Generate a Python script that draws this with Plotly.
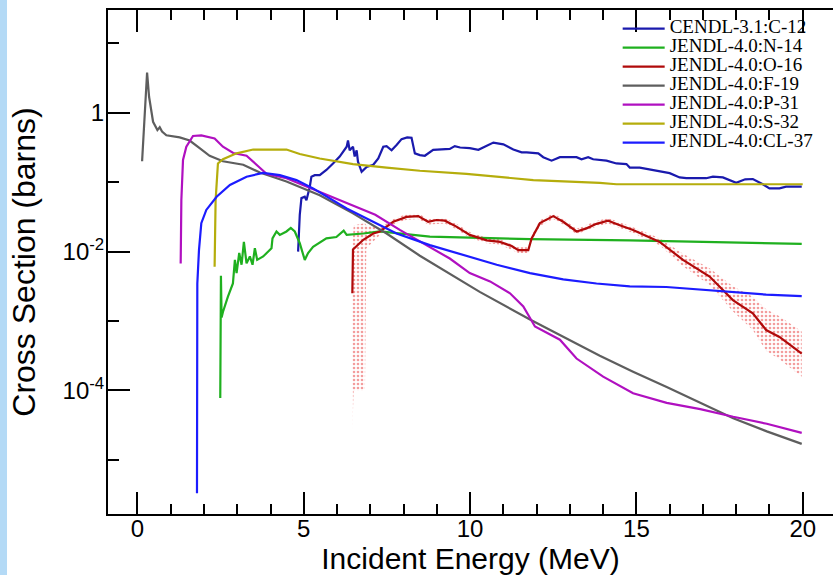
import plotly.graph_objects as go

# ---------------- data (Incident energy in MeV, cross section in barns) ----------------
c12_E = [4.83, 4.88, 4.93, 5.03, 5.08, 5.18, 5.23, 5.33, 5.48, 5.68, 5.88, 6.08, 6.29, 6.33, 6.38,
         6.48, 6.53, 6.59, 6.63, 6.74, 6.89, 7.09, 7.24, 7.39, 7.49, 7.64, 7.79, 7.94, 8.11, 8.24,
         8.34, 8.49, 8.64, 8.89, 9.39, 9.54, 9.70, 9.99, 10.25, 10.50, 10.70, 11.0, 11.3, 11.55,
         11.7, 12.05, 12.2, 12.45, 12.7, 13.2, 13.35, 13.55, 13.7, 14.1, 14.4, 14.7, 14.8, 15.1,
         15.5, 16.0, 16.3, 16.5, 17.1, 17.3, 17.6, 18.0, 18.27, 18.5, 18.8, 19.0, 19.3, 19.5, 19.97]
c12_xs = [0.0100, 0.0339, 0.0589, 0.0617, 0.0550, 0.0851, 0.120, 0.126, 0.126, 0.150, 0.186, 0.234,
          0.324, 0.398, 0.288, 0.324, 0.234, 0.288, 0.197, 0.141, 0.166, 0.178, 0.219, 0.324, 0.331,
          0.288, 0.343, 0.417, 0.442, 0.437, 0.260, 0.245, 0.240, 0.292, 0.302, 0.331, 0.316, 0.309,
          0.292, 0.331, 0.372, 0.351, 0.295, 0.269, 0.269, 0.260, 0.229, 0.204, 0.229, 0.229, 0.214,
          0.229, 0.214, 0.204, 0.186, 0.182, 0.162, 0.162, 0.150, 0.135, 0.117, 0.114, 0.114, 0.120,
          0.117, 0.0977, 0.110, 0.111, 0.0933, 0.0813, 0.0813, 0.0861, 0.0861]

n14_E = [2.49, 2.51, 2.53, 2.57, 2.72, 2.87, 2.93, 2.98, 3.06, 3.13, 3.20, 3.28, 3.38, 3.46, 3.53,
         3.60, 3.78, 4.03, 4.06, 4.18, 4.28, 4.48, 4.61, 4.73, 4.88, 5.03, 5.13, 5.28, 5.68, 5.98,
         6.20, 6.29, 6.79, 7.29, 8.79, 11.8, 14.8, 19.97]
n14_xs = [7.76e-5, 4.47e-3, 1.12e-3, 1.35e-3, 2.24e-3, 3.47e-3, 7.59e-3, 4.90e-3, 9.55e-3, 6.46e-3,
          0.0138, 6.76e-3, 8.51e-3, 6.46e-3, 0.0112, 7.59e-3, 8.51e-3, 0.0112, 0.0155, 0.0195,
          0.0174, 0.0195, 0.0219, 0.0195, 0.0132, 7.59e-3, 9.55e-3, 0.0117, 0.0155, 0.0162,
          0.0200, 0.0174, 0.0182, 0.0195, 0.0164, 0.0151, 0.0145, 0.0129]

o16_E = [6.46, 6.48, 6.79, 7.09, 7.29, 7.69, 8.09, 8.44, 8.74, 8.99, 9.24, 9.59, 9.99, 10.5, 10.9,
         11.25, 11.45, 11.75, 11.85, 12.1, 12.5, 12.8, 13.2, 13.5, 13.8, 14.15, 14.5, 14.9, 15.7,
         16.4, 17.2, 17.9, 18.5, 18.9, 19.3, 19.97]
o16_xs = [0.00251, 0.0107, 0.0148, 0.0182, 0.0195, 0.0269, 0.0316, 0.0324, 0.0269, 0.0285, 0.0279,
          0.0229, 0.0174, 0.0145, 0.0138, 0.0120, 0.0105, 0.0105, 0.0155, 0.0257, 0.0324, 0.0269,
          0.0195, 0.0216, 0.0251, 0.0279, 0.0240, 0.0204, 0.0138, 0.00759, 0.00437, 0.00200,
          0.00129, 7.41e-4, 5.89e-4, 3.39e-4]

# O-16 uncertainty band
o16_band_E = [6.46, 6.50, 6.84, 6.88, 7.29, 7.69, 8.09, 8.44, 8.74, 9.24, 9.59, 9.99, 10.5, 10.9,
              11.45, 11.75, 11.85, 12.1, 12.5, 12.8, 13.2, 13.8, 14.15, 14.9, 15.7, 16.4, 17.2,
              17.9, 18.5, 18.9, 19.3, 19.97]
o16_band_hi = [0.0112, 0.0240, 0.0257, 0.0240, 0.0219, 0.0295, 0.0347, 0.0355, 0.0295, 0.0305,
               0.0251, 0.0191, 0.0158, 0.0151, 0.0115, 0.0115, 0.0170, 0.0282, 0.0355, 0.0295,
               0.0214, 0.0275, 0.0305, 0.0224, 0.0155, 0.00933, 0.00575, 0.00316, 0.00224,
               0.00148, 0.00117, 7.08e-4]
o16_band_lo = [2.69e-5, 1.00e-4, 1.00e-4, 0.0112, 0.0174, 0.0245, 0.0288, 0.0295, 0.0245, 0.0254,
               0.0209, 0.0158, 0.0132, 0.0126, 0.00955, 0.00955, 0.0141, 0.0234, 0.0295, 0.0245,
               0.0178, 0.0229, 0.0254, 0.0186, 0.0123, 0.00617, 0.00331, 0.00138, 7.41e-4,
               3.72e-4, 2.82e-4, 1.58e-4]

f19_E = [0.14, 0.29, 0.35, 0.47, 0.60, 0.67, 0.74, 0.87, 1.27, 1.57, 1.87, 2.17, 2.57, 3.18, 3.68,
         4.48, 5.48, 6.48, 7.49, 8.49, 10.29, 11.80, 13.9, 14.9, 15.91, 16.92, 17.91, 18.92, 19.97]
f19_xs = [0.200, 3.8, 1.70, 0.741, 0.562, 0.617, 0.537, 0.473, 0.442, 0.398, 0.309, 0.240, 0.200,
          0.178, 0.138, 0.102, 0.0646, 0.0355, 0.0182, 0.00871, 0.00263, 0.00105, 3.16e-4,
          1.86e-4, 1.12e-4, 6.61e-5, 3.98e-5, 2.57e-5, 1.70e-5]

p31_E = [1.30, 1.32, 1.37, 1.47, 1.67, 1.92, 2.32, 2.57, 2.88, 3.28, 3.58, 3.88, 4.48, 5.48, 6.48,
         7.15, 7.9, 8.79, 9.39, 9.99, 10.6, 11.2, 11.6, 11.95, 12.7, 13.2, 14.0, 14.9, 15.91,
         16.92, 17.91, 18.92, 19.97]
p31_xs = [0.00676, 0.0550, 0.209, 0.324, 0.462, 0.473, 0.427, 0.324, 0.263, 0.240, 0.178, 0.132,
          0.114, 0.0724, 0.0457, 0.0339, 0.0204, 0.0117, 0.00794, 0.00490, 0.00372, 0.00251,
          0.00162, 8.32e-4, 5.37e-4, 2.88e-4, 1.58e-4, 9.12e-5, 6.61e-5, 5.37e-5, 4.17e-5,
          3.31e-5, 2.45e-5]

s32_E = [2.32, 2.35, 2.42, 2.57, 2.98, 3.48, 4.48, 4.88, 5.48, 6.48, 7.49, 8.49, 9.89, 11.9, 13.9,
         14.4, 20.0]
s32_xs = [0.00603, 0.0550, 0.186, 0.214, 0.260, 0.295, 0.295, 0.254, 0.219, 0.182, 0.162, 0.146,
          0.132, 0.107, 0.0977, 0.0933, 0.0933]

cl37_E = [1.79, 1.80, 1.85, 1.92, 2.07, 2.38, 2.78, 3.28, 3.78, 4.28, 4.78, 5.28, 6.29, 6.79, 7.29,
          7.79, 8.79, 9.79, 10.8, 11.8, 12.8, 13.8, 14.8, 15.9, 17.9, 18.9, 19.97]
cl37_xs = [3.31e-6, 0.00347, 0.0105, 0.0257, 0.0398, 0.0617, 0.0912, 0.120, 0.136, 0.126, 0.107,
           0.0813, 0.0417, 0.0316, 0.0240, 0.0182, 0.0124, 0.00891, 0.00646, 0.00490, 0.00398,
           0.00347, 0.00316, 0.00309, 0.00257, 0.00240, 0.00229]

series_names = ["CENDL-3.1:C-12", "JENDL-4.0:N-14", "JENDL-4.0:O-16", "JENDL-4.0:F-19",
                "JENDL-4.0:P-31", "JENDL-4.0:S-32", "JENDL-4.0:CL-37"]
series_colors = ["#1a1aad", "#1fb01f", "#b00a0a", "#5e5e5e", "#b010c0", "#b5ad0c", "#1c1cff"]
series_E = [c12_E, n14_E, o16_E, f19_E, p31_E, s32_E, cl37_E]
series_xs = [c12_xs, n14_xs, o16_xs, f19_xs, p31_xs, s32_xs, cl37_xs]

y_major_vals = [1e-4, 1e-2, 1]
y_major_text = ["10<sup>-4</sup>", "10<sup>-2</sup>", "1"]
y_minor_vals = [1e-5, 1e-3, 1e-1, 10]
x_major_vals = [0, 5, 10, 15, 20]

# ---------------- figure ----------------
fig = go.Figure()

# O-16 uncertainty band (dotted)
fig.add_trace(go.Scatter(x=o16_band_E, y=o16_band_lo, mode="lines", line=dict(width=0),
                         showlegend=False, hoverinfo="skip"))
fig.add_trace(go.Scatter(x=o16_band_E, y=o16_band_hi, mode="lines", line=dict(width=0),
                         fill="tonexty", fillcolor="rgba(0,0,0,0)",
                         fillpattern=dict(shape=".", fgcolor="#e83c3c", bgcolor="rgba(0,0,0,0)",
                                          size=4, solidity=0.35, fillmode="overlay"),
                         showlegend=False, hoverinfo="skip"))

for name, E, xs, col in zip(series_names, series_E, series_xs, series_colors):
    fig.add_trace(go.Scatter(
        x=E, y=xs, mode="lines",
        name='<span style="font-size:19px">' + name + '</span>',
        line=dict(color=col, width=2.2)))

tick_font = dict(family="Liberation Sans, Arial, sans-serif", size=24, color="black")
title_font_x = dict(family="Liberation Sans, Arial, sans-serif", size=30, color="black")
title_font_y = dict(family="Liberation Sans, Arial, sans-serif", size=32, color="black")

fig.update_layout(
    width=833, height=575,
    margin=dict(l=108, r=0, t=10, b=61),
    paper_bgcolor="white", plot_bgcolor="white",
    showlegend=True,
    legend=dict(x=0.703, y=0.992, xanchor="left", yanchor="top", traceorder="normal",
                bgcolor="rgba(0,0,0,0)", borderwidth=0, itemwidth=42,
                font=dict(family="Liberation Serif, Times New Roman, serif", size=12, color="black")),
    xaxis=dict(range=[-0.885, 20.91], showgrid=False, zeroline=False, automargin=False,
               showline=True, linecolor="black", linewidth=2, mirror="ticks",
               tickmode="array", tickvals=x_major_vals,
               ticks="inside", ticklen=22, tickwidth=2, tickcolor="black",
               ticklabelstandoff=-8,
               minor=dict(dtick=1, tick0=0, ticks="inside", ticklen=10, tickwidth=2,
                          tickcolor="black", showgrid=False),
               tickfont=tick_font,
               title=dict(text="Incident Energy (MeV)", font=title_font_x, standoff=4)),
    yaxis=dict(type="log", range=[-5.78, 1.48], showgrid=False, zeroline=False, automargin=False,
               showline=True, linecolor="black", linewidth=2, mirror=False,
               tickmode="array", tickvals=y_major_vals, ticktext=y_major_text,
               ticks="inside", ticklen=22, tickwidth=2, tickcolor="black",
               ticklabelstandoff=-3,
               minor=dict(tickmode="array", tickvals=y_minor_vals, ticks="inside", ticklen=11,
                          tickwidth=2, tickcolor="black", showgrid=False),
               tickfont=tick_font,
               title=dict(text="Cross Section (barns)", font=title_font_y, standoff=17)),
    yaxis2=dict(type="log", range=[-5.78, 1.48], overlaying="y", side="right", anchor="x",
                automargin=False,
                showgrid=False, zeroline=False, showline=False, showticklabels=False,
                tickmode="array", tickvals=y_major_vals,
                ticks="inside", ticklen=22, tickwidth=2, tickcolor="black",
                minor=dict(tickmode="array", tickvals=y_minor_vals, ticks="inside", ticklen=11,
                           tickwidth=2, tickcolor="black", showgrid=False)),
    shapes=[dict(type="rect", xref="paper", yref="paper", x0=-0.149, x1=-0.1393,
                 y0=-0.125, y1=1.03, fillcolor="#b4daf6", line=dict(width=0), layer="below")],
)

fig.write_html("out.html", config={"displayModeBar": False},
               post_script="document.body.style.margin='0';document.body.style.overflow='hidden';")
